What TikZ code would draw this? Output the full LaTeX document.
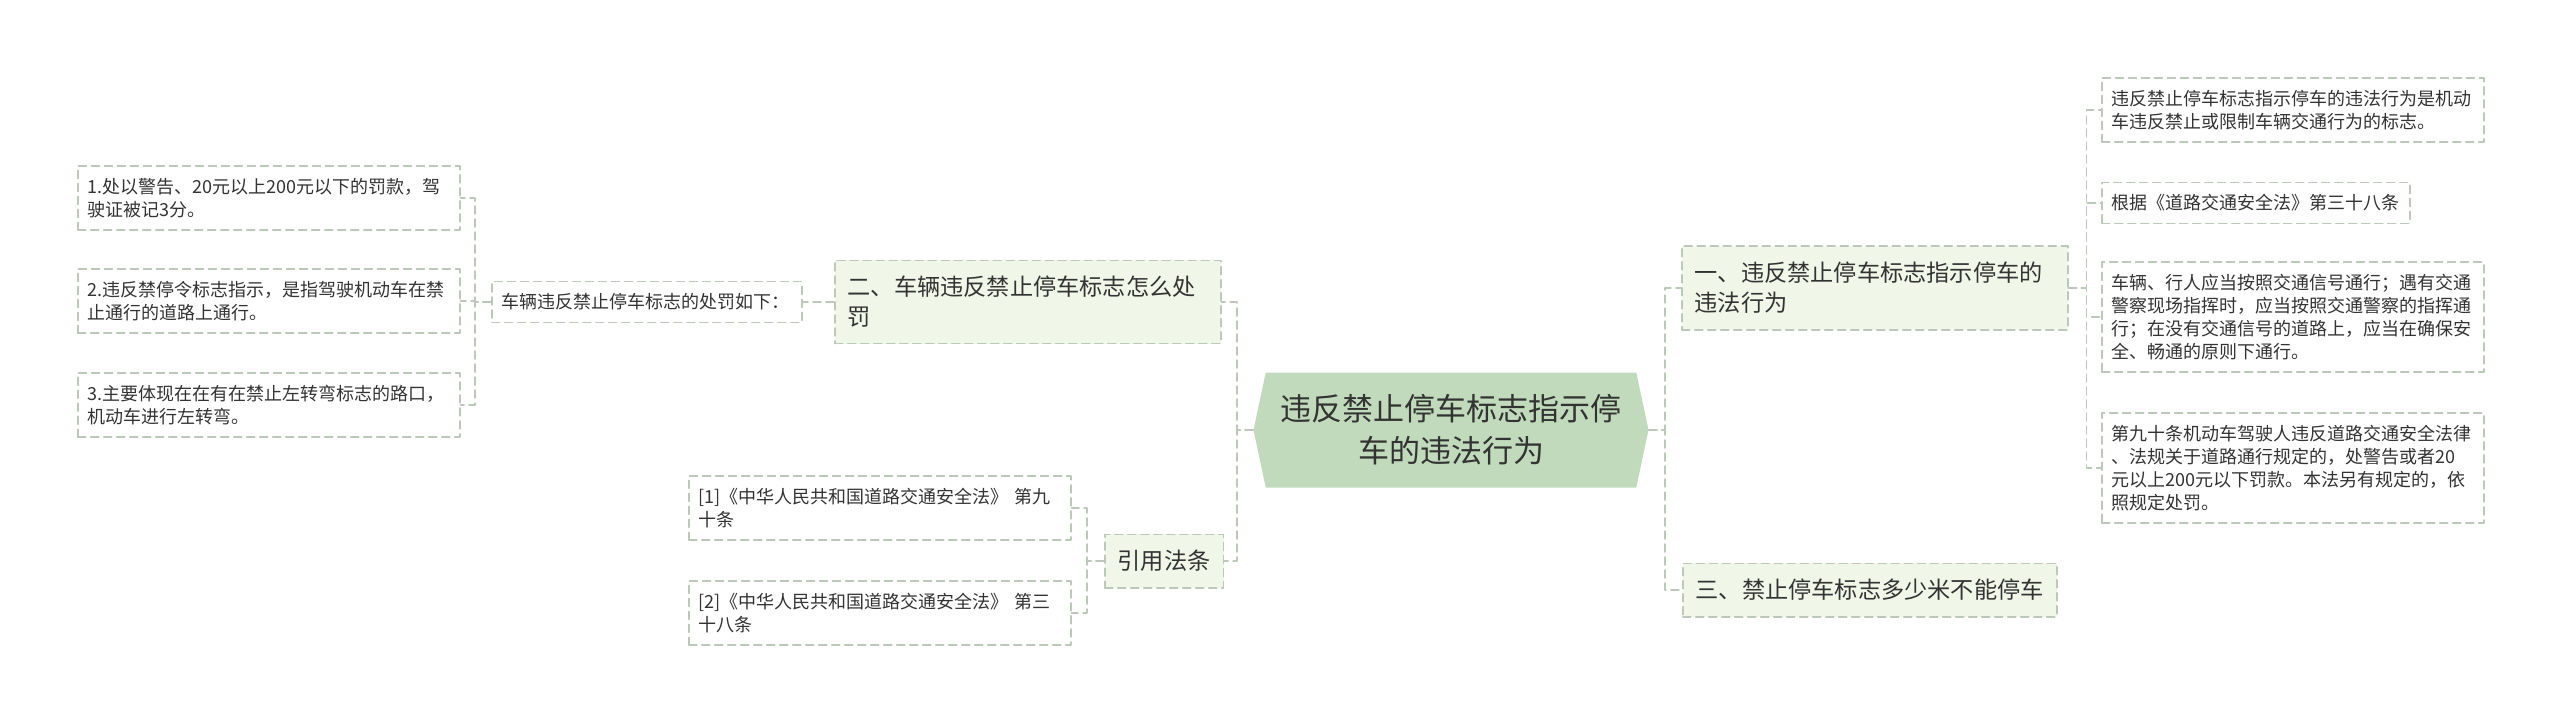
\documentclass[tikz,border=0pt]{standalone}
\usepackage{fontspec}
\newfontfamily\cjk{Noto Sans CJK SC}
\usetikzlibrary{shapes.symbols}

\begin{document}
\begin{tikzpicture}[
    x=0.5pt,
    y=-0.5pt,
    line cap=round,
    line join=round,
    font=\cjk
]

% =========================================================
% Colors
% =========================================================
\definecolor{hubgreen}{RGB}{192,218,187}
\definecolor{branchgreen}{RGB}{240,246,232}
\definecolor{dashgray}{RGB}{188,200,186}
\definecolor{textgray}{RGB}{51,51,51}

% =========================================================
% Styles
% =========================================================
\tikzset{
    dashframe/.style={draw=dashgray,line width=0.75pt,dash pattern=on 4pt off 2.5pt},
    link/.style={dashframe},
    hubnode/.style={shape=signal,signal to=west and east,signal pointer angle=156,
        fill=hubgreen,text=textgray,align=center,
        font=\cjk\fontsize{15.5}{21}\selectfont,
        minimum width=197.5pt,minimum height=57.5pt,inner sep=0pt},
    branchnode/.style={dashframe,fill=branchgreen,text=textgray,align=left,anchor=west,
        font=\cjk\fontsize{11.6}{15}\selectfont,inner xsep=6.5pt,inner ysep=8pt},
    widebranch/.style={branchnode,text width=180pt},
    leafnode/.style={dashframe,fill=white,text=textgray,align=left,anchor=west,
        font=\cjk\fontsize{9}{11.5}\selectfont,inner xsep=5pt,inner ysep=6pt},
    wideleaf/.style={leafnode,text width=181pt}
}

\useasboundingbox (0,0) rectangle (2560,723);

% =========================================================
% Central topic
% =========================================================
\node[hubnode] (hub) at (1451,430) {违反禁止停车标志指示停\\车的违法行为};

% =========================================================
% Right side
% =========================================================
\node[widebranch] (b1) at (1681,288) {一、违反禁止停车标志指示停车的\\违法行为};
\node[branchnode] (b3) at (1682,590) {三、禁止停车标志多少米不能停车};

\node[wideleaf] (la) at (2101,110) {违反禁止停车标志指示停车的违法行为是机动\\车违反禁止或限制车辆交通行为的标志。};
\node[leafnode] (lb) at (2101,203) {根据《道路交通安全法》第三十八条};
\node[wideleaf] (lc) at (2101,317) {车辆、行人应当按照交通信号通行；遇有交通\\警察现场指挥时，应当按照交通警察的指挥通\\行；在没有交通信号的道路上，应当在确保安\\全、畅通的原则下通行。};
\node[wideleaf] (ld) at (2101,468) {第九十条机动车驾驶人违反道路交通安全法律\\、法规关于道路通行规定的，处警告或者20\\元以上200元以下罚款。本法另有规定的，依\\照规定处罚。};

% =========================================================
% Left side
% =========================================================
\node[widebranch] (b2) at (834,302) {二、车辆违反禁止停车标志怎么处\\罚};
\node[branchnode] (cite) at (1104,561) {引用法条};

\node[leafnode,text width=145pt] (mid) at (491,302) {车辆违反禁止停车标志的处罚如下：};

\node[wideleaf] (p1) at (77,198) {1.处以警告、20元以上200元以下的罚款，驾\\驶证被记3分。};
\node[wideleaf] (p2) at (77,301) {2.违反禁停令标志指示，是指驾驶机动车在禁\\止通行的道路上通行。};
\node[wideleaf] (p3) at (77,405) {3.主要体现在在有在禁止左转弯标志的路口，\\机动车进行左转弯。};

\node[wideleaf] (r1) at (688,508) {[1]《中华人民共和国道路交通安全法》~第九\\十条};
\node[wideleaf] (r2) at (688,613) {[2]《中华人民共和国道路交通安全法》~第三\\十八条};

% =========================================================
% Connectors
% =========================================================
\draw[link] (hub.east) -- ++(16,0) |- (b1.west);
\draw[link] (hub.east) -- ++(16,0) |- (b3.west);
\draw[link] (hub.west) -- ++(-16,0) |- (b2.east);
\draw[link] (hub.west) -- ++(-16,0) |- (cite.east);
\draw[link] (b2.west) -- (mid.east);

\foreach \leaf in {la,lb,lc,ld}
    \draw[link] (b1.east) -- ++(18,0) |- (\leaf.west);
\foreach \leaf in {p1,p2,p3}
    \draw[link] (mid.west) -- ++(-16,0) |- (\leaf.east);
\foreach \leaf in {r1,r2}
    \draw[link] (cite.west) -- ++(-17,0) |- (\leaf.east);

\end{tikzpicture}
\end{document}
